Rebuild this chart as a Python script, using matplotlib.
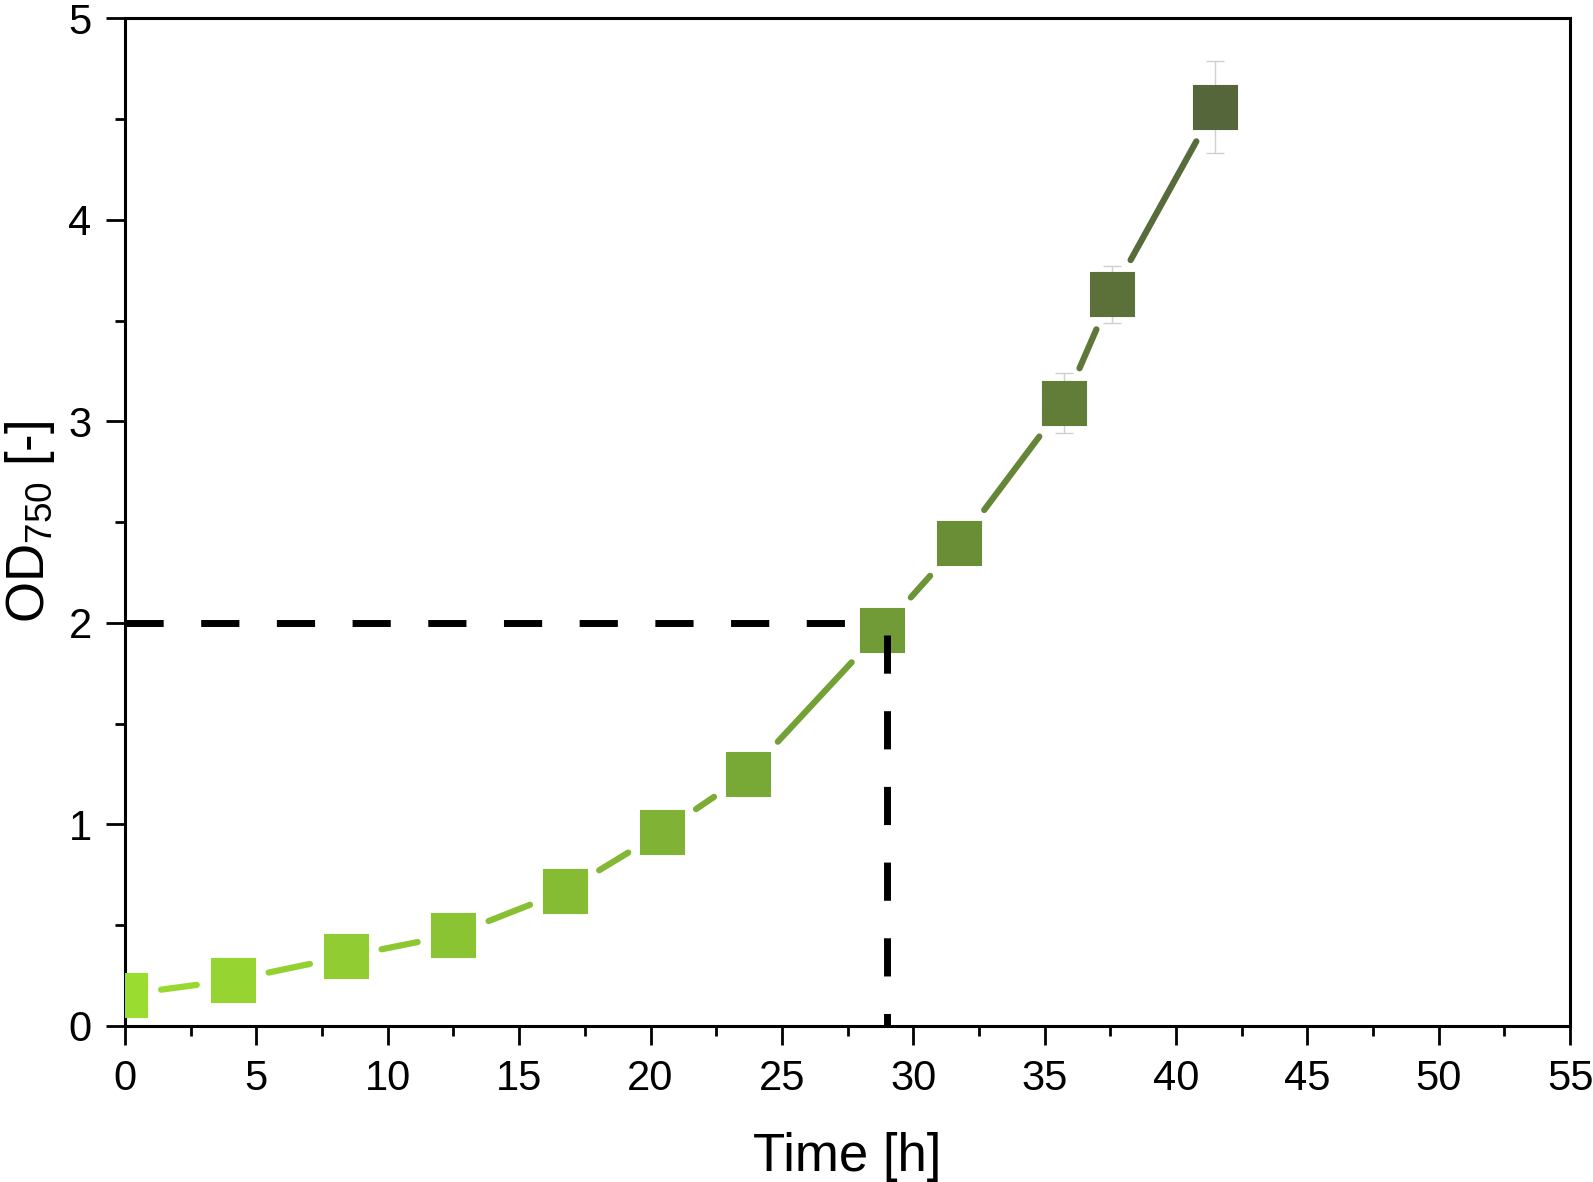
import numpy as np
import matplotlib
matplotlib.use('Agg')
import matplotlib.pyplot as plt
from matplotlib.colors import LinearSegmentedColormap
from matplotlib.ticker import MultipleLocator

plt.rcParams['font.family'] = ['Liberation Sans', 'DejaVu Sans']
plt.rcParams['mathtext.default'] = 'regular'

# growth curve
time_h = [0.0, 4.1, 8.4, 12.5, 16.75, 20.45, 23.7, 28.8, 31.75, 35.75, 37.55, 41.5]
od750 = [0.156, 0.228, 0.345, 0.452, 0.67, 0.963, 1.25, 1.965, 2.395, 3.09, 3.63, 4.56]
od_err = [0.02, 0.02, 0.03, 0.03, 0.04, 0.05, 0.06, 0.07, 0.08, 0.15, 0.14, 0.23]

# OD 2 threshold and the time it is reached
od_threshold = 2.0
t_threshold = 29.0

x_ticks = np.arange(0, 56, 5)
y_ticks = np.arange(0, 6, 1)

# colours go from light green to dark olive along the series
cmap = LinearSegmentedColormap.from_list(
    'od', [(0, '#9ADC30'), (4/11, '#86BC34'), (6/11, '#78A836'),
           (8/11, '#6A8E36'), (9/11, '#627D38'), (1, '#55663A')])
n = len(time_h)
cols = [cmap(i / (n - 1)) for i in range(n)]

fig = plt.figure(figsize=(15.93, 11.82), dpi=100)
ax = fig.add_axes([0.0785, 0.132, 0.9071, 0.8525])
ax.set_xlim(0, 55)
ax.set_ylim(0, 5)

ms = 31.7   # marker side in points
gap = 11    # pixels between marker and line end
lw = 4.5
px = fig.dpi / 72.0

# connecting line, shortened so it stops short of the squares
pts = ax.transData.transform(np.column_stack([time_h, od750]))
half = ms * px / 2
for i in range(n - 1):
    p0, p1 = pts[i], pts[i + 1]
    d = p1 - p0
    L = np.hypot(*d)
    u = d / L
    edge = half / max(abs(u[0]), abs(u[1]))
    cut = edge + gap + lw * px / 2
    a = p0 + u * cut
    b = p1 - u * cut
    seg = ax.transData.inverted().transform(np.array([a, b]))
    c = cmap((i + 0.5) / (n - 1))
    ax.plot(seg[:, 0], seg[:, 1], color=c, lw=lw, solid_capstyle='round', zorder=2)

# horizontal dashed guide at OD 2
ax.plot([0, t_threshold - 1.1], [od_threshold, od_threshold], color='black', lw=5,
        dashes=(5.5, 5.4), dash_capstyle='butt', zorder=2.5)

ax.errorbar(time_h, od750, yerr=od_err, fmt='none', ecolor='#d0d0d0',
            elinewidth=1, capsize=6.8, capthick=1, zorder=3.5)

ax.scatter(time_h, od750, s=ms**2, c=cols, marker='s', linewidths=0.8,
           edgecolors=cols, zorder=4)

# vertical dashed guide down to the time axis
ax.plot([t_threshold, t_threshold], [od_threshold - 0.06, 0], color='black', lw=5,
        dashes=(5.5, 5.4), dash_capstyle='butt', zorder=5, clip_on=False)

ax.xaxis.set_major_locator(MultipleLocator(5))
ax.xaxis.set_minor_locator(MultipleLocator(2.5))
ax.yaxis.set_major_locator(MultipleLocator(1))
ax.yaxis.set_minor_locator(MultipleLocator(0.5))
ax.set_xticks(x_ticks)
ax.set_yticks(y_ticks)

for s in ax.spines.values():
    s.set_linewidth(2.2)
ax.tick_params(which='major', direction='out', length=14, width=2, labelsize=30)
ax.tick_params(axis='x', which='major', pad=10)
ax.tick_params(axis='y', which='major', pad=10)
ax.tick_params(which='minor', direction='out', length=7, width=2)
ax.tick_params(top=False, right=False, which='both')

ax.set_xlabel('Time [h]', fontsize=38)
ax.set_ylabel('OD$_{750}$ [-]', fontsize=38)
ax.xaxis.set_label_coords(0.5, -0.105)
ax.yaxis.set_label_coords(-0.047, 0.5)

fig.savefig('out.png', dpi=100)
